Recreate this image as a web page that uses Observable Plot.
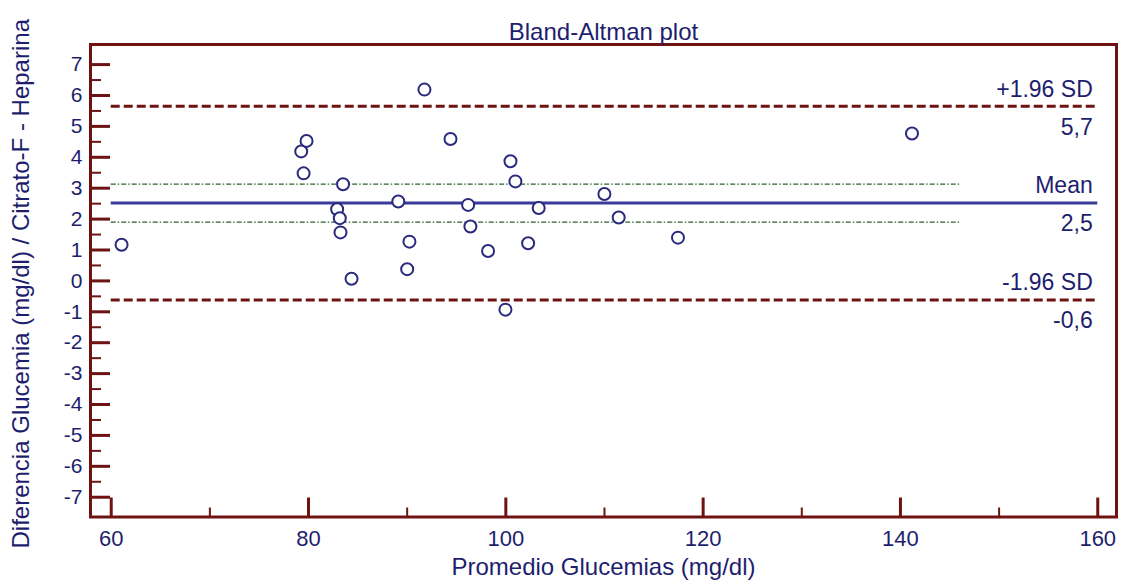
<!DOCTYPE html>
<html>
<head>
<meta charset="utf-8">
<script src="https://cdn.jsdelivr.net/npm/d3@7"></script>
<script src="https://cdn.jsdelivr.net/npm/@observablehq/plot@0.6"></script>
<style>
  html, body { margin: 0; padding: 0; background: #ffffff; }
  #chart { width: 1125px; height: 586px; }
</style>
</head>
<body>
<div id="chart"></div>
<script>
// ---- Data ----
const avgGlucose = [61.05, 79.26, 79.8, 79.5, 83.5, 82.9, 83.17, 83.24, 84.36, 89.1, 90.0, 90.23, 91.75, 94.39, 96.18, 96.41, 98.2, 99.96, 100.47, 100.97, 102.26, 103.33, 109.99, 111.44, 117.45, 141.17];
const diffGlucose = [1.17, 4.19, 4.53, 3.48, 3.13, 2.32, 2.03, 1.57, 0.07, 2.57, 0.38, 1.27, 6.19, 4.59, 2.46, 1.76, 0.97, -0.93, 3.87, 3.22, 1.22, 2.36, 2.81, 2.05, 1.40, 4.77];

const limitNames = ["+1.96 SD", "Mean", "-1.96 SD"];
const limitValues = [5.65, 2.52, -0.62];
const limitValueLabels = ["5,7", "2,5", "-0,6"];
const meanCI = [3.13, 1.9];
const ciEnd = 146;

const lineStart = 60;
const lineEnd = 160;

const xMajorTicks = [60, 80, 100, 120, 140, 160];
const xMinorTicks = [70, 90, 110, 130, 150];
const yMajorTicks = [-7, -6, -5, -4, -3, -2, -1, 0, 1, 2, 3, 4, 5, 6, 7];
const yMinorTicks = [-6.5, -5.5, -4.5, -3.5, -2.5, -1.5, -0.5, 0.5, 1.5, 2.5, 3.5, 4.5, 5.5, 6.5];

const titleText = "Bland-Altman plot";
const xTitle = "Promedio Glucemias (mg/dl)";
const yTitle = "Diferencia Glucemia (mg/dl) / Citrato-F - Heparina";

// ---- Styles ----
const frameColor = "#6e1212";
const textColor = "#1e1e6e";
const meanColor = "#3a3a9a";
const ciColor = "#2e602e";
const pointColor = "#2a2a7c";
const font = "Arial, 'Liberation Sans', sans-serif";

const points = avgGlucose.map((x, i) => ({x, y: diffGlucose[i]}));
const sdLimits = [limitValues[0], limitValues[2]];
const hyphenFormat = d => (d < 0 ? "-" + (-d) : String(d));

const chart = Plot.plot({
  width: 1125,
  height: 586,
  marginLeft: 90,
  marginRight: 9,
  marginTop: 44,
  marginBottom: 69.5,
  style: {fontFamily: font, background: "#ffffff", overflow: "visible"},
  x: {domain: [57.9, 161.9], label: null},
  y: {domain: [-7.64, 7.65], label: null},
  marks: [
    // confidence interval of mean (dash-dot green)
    Plot.ruleY(meanCI, {x1: lineStart, x2: ciEnd, stroke: ciColor, strokeWidth: 1.3, strokeDasharray: "5,2,1.5,2"}),
    // limits of agreement
    Plot.ruleY(sdLimits, {x1: lineStart, x2: lineEnd, stroke: frameColor, strokeWidth: 3, strokeDasharray: "9,4"}),
    // mean
    Plot.ruleY([limitValues[1]], {x1: lineStart, x2: lineEnd, stroke: meanColor, strokeWidth: 3}),
    // points
    Plot.dot(points, {x: "x", y: "y", r: 6, stroke: pointColor, strokeWidth: 2, fill: "white"}),
    // labels for lines
    Plot.text(limitNames, {x: lineEnd, y: (d, i) => limitValues[i], text: d => d, textAnchor: "end", dx: -5, dy: -17, fontSize: 23, fill: textColor}),
    Plot.text(limitValueLabels, {x: lineEnd, y: (d, i) => limitValues[i], text: d => d, textAnchor: "end", dx: -5, dy: 21, fontSize: 23, fill: textColor}),
    // y axis: major ticks (inward), minor ticks, labels
    Plot.axisY(yMajorTicks, {tickSize: -20, stroke: frameColor, strokeWidth: 3, fill: "none", label: null}),
    Plot.axisY(yMinorTicks, {tickSize: -11, stroke: frameColor, strokeWidth: 2, fill: "none", label: null}),
    Plot.axisY(yMajorTicks, {tickSize: 0, tickPadding: 8, fontSize: 21, fill: textColor, label: null, tickFormat: hyphenFormat}),
    // x axis
    Plot.axisX(xMajorTicks, {tickSize: -19, stroke: frameColor, strokeWidth: 3, fill: "none", label: null}),
    Plot.axisX(xMinorTicks, {tickSize: -9, stroke: frameColor, strokeWidth: 2, fill: "none", label: null}),
    Plot.axisX(xMajorTicks, {tickSize: 0, tickPadding: 13, fontSize: 22, fill: textColor, label: null}),
    // frame
    Plot.frame({stroke: frameColor, strokeWidth: 3}),
    // titles
    Plot.text([titleText], {frameAnchor: "top", dy: -22, fontSize: 24, fill: textColor}),
    Plot.text([xTitle], {frameAnchor: "bottom", dy: 58, fontSize: 24, fill: textColor}),
    Plot.text([yTitle], {frameAnchor: "left", textAnchor: "middle", rotate: -90, dx: -69, dy: 3, fontSize: 24, fill: textColor})
  ]
});

document.getElementById("chart").appendChild(chart);
</script>
</body>
</html>
